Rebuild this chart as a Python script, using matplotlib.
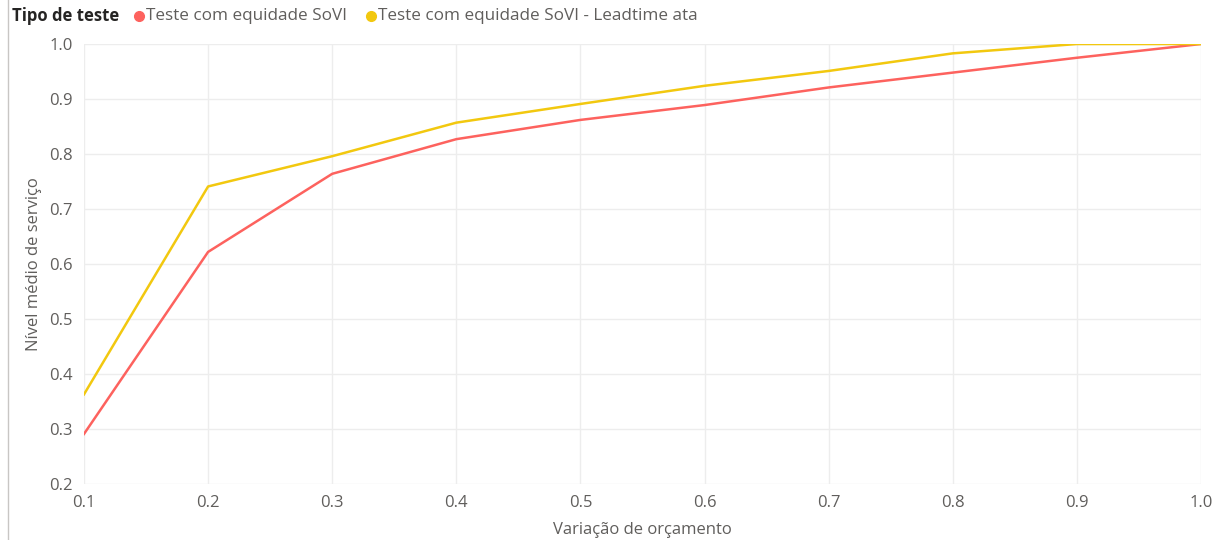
import matplotlib
matplotlib.use("Agg")
import matplotlib.pyplot as plt
from matplotlib.lines import Line2D

plt.rcParams['font.family'] = ['Open Sans', 'DejaVu Sans']

budget = [0.1, 0.2, 0.3, 0.4, 0.5, 0.6, 0.7, 0.8, 0.9, 1.0]
sovi = [0.291, 0.622, 0.764, 0.827, 0.862, 0.889, 0.921, 0.948, 0.975, 1.0]
sovi_leadtime = [0.363, 0.741, 0.796, 0.857, 0.891, 0.924, 0.951, 0.983, 1.0, 1.0]
series_names = ["Teste com equidade SoVI", "Teste com equidade SoVI - Leadtime ata"]
y_ticks = [0.2, 0.3, 0.4, 0.5, 0.6, 0.7, 0.8, 0.9, 1.0]

RED = "#FD625E"
YELLOW = "#F2C80F"
GREY = "#605E5C"

fig = plt.figure(figsize=(12.28, 5.4), dpi=100)
ax = fig.add_axes([0.0684, 0.1037, 0.9096, 0.8148])

ax.plot(budget, sovi, color=RED, lw=1.8, label=series_names[0])
ax.plot(budget, sovi_leadtime, color=YELLOW, lw=1.8, label=series_names[1])

ax.set_xlim(0.1, 1.0)
ax.set_ylim(0.2, 1.0)
ax.set_xticks(budget)
ax.set_yticks(y_ticks)
ax.set_xticklabels([f"{v:.1f}" for v in budget])
ax.set_yticklabels([f"{v:.1f}" for v in y_ticks])
ax.grid(True, color="#EDEDED", lw=1)
ax.set_axisbelow(True)
for s in ax.spines.values():
    s.set_visible(False)
ax.tick_params(length=0, labelsize=12, colors=GREY, pad=8)
ax.set_xlabel("Variação de orçamento", fontsize=12, color=GREY, labelpad=8)
ax.set_ylabel("Nível médio de serviço", fontsize=12, color=GREY, labelpad=5)

# legend row at top, Power BI style
fig.text(12 / 1228, 1 - 16 / 540, "Tipo de teste", fontsize=12, fontweight="bold",
         color="#252423", va="center", ha="left")
fig.add_artist(Line2D([139 / 1228], [1 - 16 / 540], marker="o", markersize=7,
                      color=RED, transform=fig.transFigure))
fig.text(146 / 1228, 1 - 16 / 540, series_names[0], fontsize=12.3, color=GREY,
         va="center", ha="left")
fig.add_artist(Line2D([371 / 1228], [1 - 16 / 540], marker="o", markersize=7,
                      color=YELLOW, transform=fig.transFigure))
fig.text(378 / 1228, 1 - 16 / 540, series_names[1], fontsize=12.3, color=GREY,
         va="center", ha="left")

# thin frame line on the left edge
fig.add_artist(Line2D([8 / 1228, 8 / 1228], [0, 1], color="#C8C6C4", lw=1,
                      transform=fig.transFigure))

fig.savefig("out.png", dpi=100, facecolor="white")
